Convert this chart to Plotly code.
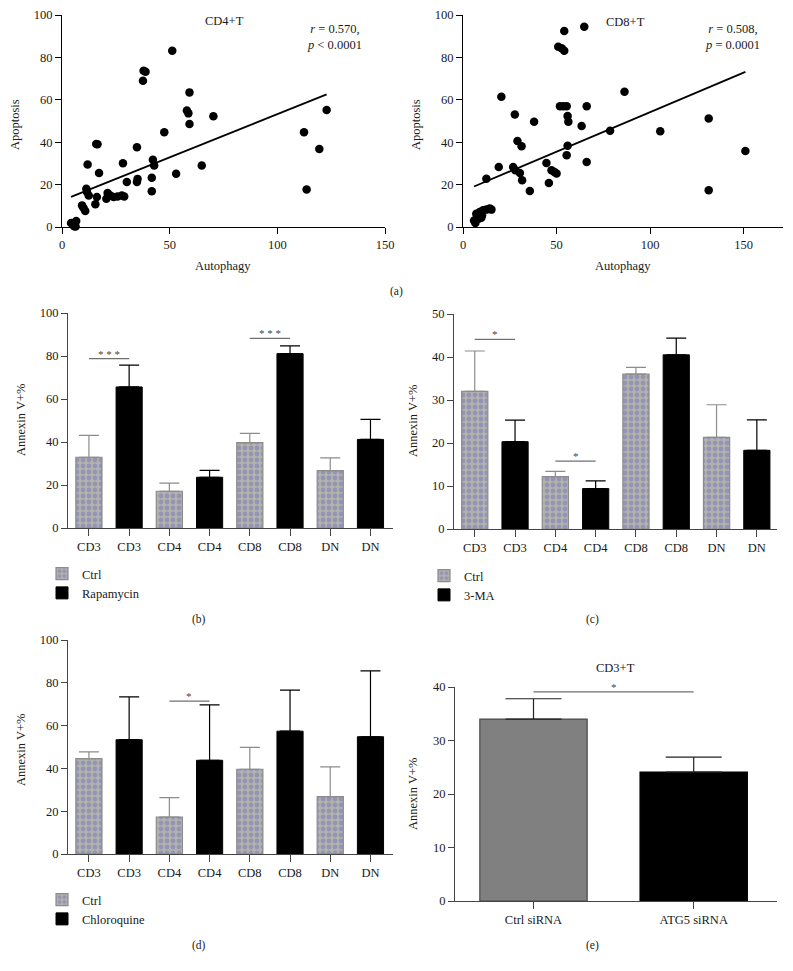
import plotly.graph_objects as go

# scatter data, panel (a)
cd4_autophagy = [4.2, 5.1, 6.6, 5.7, 6.3, 9.3, 10.0, 10.8, 11.9, 11.3, 11.6, 12.4, 15.9, 16.5, 17.2, 15.5, 16.2,
                 20.6, 21.2, 22.4, 24.0, 25.8, 27.8, 28.9, 28.3, 30.1, 34.8, 34.8, 35.1, 37.6, 37.9, 38.8, 41.7,
                 41.7, 42.2, 42.8, 47.5, 51.2, 53.0, 58.0, 58.7, 59.2, 59.2, 64.9, 70.3, 112.4, 113.6, 119.5, 122.9]
cd4_apoptosis = [1.9, 1.0, 2.8, 0.4, 0.2, 10.2, 9.0, 7.5, 29.5, 18.0, 16.5, 14.9, 39.2, 39.0, 25.5, 10.7, 14.1,
                 13.3, 16.0, 14.9, 14.1, 14.4, 14.9, 14.4, 30.1, 21.2, 37.6, 21.2, 22.7, 69.0, 73.7, 73.2, 16.9,
                 23.2, 31.7, 29.0, 44.7, 83.1, 25.1, 54.9, 53.6, 63.5, 48.6, 29.0, 52.2, 44.7, 17.7, 36.8, 55.2]
cd4_fit = (0.407, 12.5)   # slope, intercept
cd4_stats = "<i>r</i> = 0.570,<br><i>p</i> &lt; 0.0001"

cd8_autophagy = [5.9, 6.6, 7.7, 7.1, 8.9, 10.2, 10.7, 12.5, 14.3, 15.2, 8.4, 9.8, 12.5, 19.1, 20.5, 26.8, 27.7,
                 28.0, 29.1, 30.4, 31.3, 31.6, 35.7, 38.0, 44.6, 45.9, 47.3, 48.8, 50.0, 50.9, 52.7, 54.1, 54.1,
                 51.8, 53.6, 55.4, 55.9, 56.3, 55.9, 55.4, 63.4, 64.8, 66.1, 66.1, 78.6, 86.3, 105.4, 131.3,
                 131.3, 150.9]
cd8_apoptosis = [3.1, 1.9, 4.7, 6.3, 7.1, 5.5, 7.9, 8.2, 8.7, 8.2, 3.9, 4.4, 22.8, 28.3, 61.4, 28.3, 53.1,
                 26.8, 40.6, 25.5, 38.1, 22.0, 17.0, 49.6, 30.2, 20.8, 26.8, 26.0, 25.2, 85.0, 84.3, 83.1, 92.4,
                 57.0, 57.0, 57.0, 52.3, 49.6, 38.3, 33.9, 47.6, 94.5, 57.0, 30.7, 45.4, 63.8, 45.2, 51.2,
                 17.3, 35.9]
cd8_fit = (0.373, 16.9)
cd8_stats = "<i>r</i> = 0.508,<br><i>p</i> = 0.0001"

# bar data, panels (b)-(d)
tick_labels = ["CD3", "CD3", "CD4", "CD4", "CD8", "CD8", "DN", "DN"]
ctrl_pos = [0, 2, 4, 6]
drug_pos = [1, 3, 5, 7]

b_ctrl = [32.9, 17.1, 39.7, 26.7]
b_ctrl_sd = [10.2, 3.8, 4.3, 5.9]
b_drug = [65.6, 23.6, 81.1, 41.2]
b_drug_sd = [10.2, 3.2, 3.6, 9.3]
b_sig = [(0, 1, 78.8, "* * *"), (4, 5, 88.2, "* * *")]

c_ctrl = [32.0, 12.2, 36.0, 21.3]
c_ctrl_sd = [9.4, 1.2, 1.6, 7.6]
c_drug = [20.3, 9.4, 40.5, 18.3]
c_drug_sd = [5.0, 1.8, 3.9, 7.1]
c_sig = [(0, 1, 44.1, "*"), (2, 3, 15.8, "*")]

d_ctrl = [44.6, 17.3, 39.6, 26.8]
d_ctrl_sd = [3.1, 9.0, 10.2, 13.9]
d_drug = [53.4, 43.8, 57.4, 54.8]
d_drug_sd = [20.0, 25.9, 19.2, 30.8]
d_sig = [(2, 3, 71.4, "*")]

# panel (e)
e_labels = ["Ctrl siRNA", "ATG5 siRNA"]
e_mean = [34.0, 24.1]
e_sd = [3.8, 2.8]
e_sig = [(0, 1, 39.1, "*")]

# the page puts the plot 8px in from the top-left corner
OFF = 8
W, H = 793 - OFF, 971 - OFF
FONT = "Liberation Serif, Times New Roman, serif"
FS = 12.5


def px(x):
    return (x - OFF) / W


def py(y):
    return 1 - (y - OFF) / H


fig = go.Figure()

# ---- scatter panels
for data_x, data_y, fit, ax in [(cd4_autophagy, cd4_apoptosis, cd4_fit, ""),
                                (cd8_autophagy, cd8_apoptosis, cd8_fit, "2")]:
    fig.add_trace(go.Scatter(x=data_x, y=data_y, mode="markers", xaxis="x" + ax, yaxis="y" + ax,
                             marker=dict(color="black", size=8.5), cliponaxis=False, showlegend=False))
    lo, hi = min(data_x), max(data_x)
    fig.add_trace(go.Scatter(x=[lo, hi], y=[fit[0] * lo + fit[1], fit[0] * hi + fit[1]], mode="lines",
                             xaxis="x" + ax, yaxis="y" + ax, line=dict(color="black", width=1.8),
                             showlegend=False))

# ---- grouped bar panels
CTRL_FILL = "#b3b3ab"
CHECK = "#9494b6"


def add_bars(ctrl, ctrl_sd, drug, drug_sd, drug_name, ax, legend):
    fig.add_trace(go.Bar(x=ctrl_pos, y=ctrl, width=0.65, name="Ctrl", xaxis="x" + ax, yaxis="y" + ax,
                         legend=legend,
                         marker=dict(color=CTRL_FILL, line=dict(color="#8c8c8c", width=1.2),
                                     pattern=dict(shape=".", bgcolor=CTRL_FILL, fgcolor=CHECK,
                                                  size=6, solidity=0.5, fillmode="replace")),
                         error_y=dict(type="data", array=ctrl_sd, arrayminus=[0] * 4, symmetric=False,
                                      color="#8c8c8c", thickness=1.2, width=10)))
    fig.add_trace(go.Bar(x=drug_pos, y=drug, width=0.65, name=drug_name, xaxis="x" + ax, yaxis="y" + ax,
                         legend=legend,
                         marker=dict(color="black", line=dict(color="black", width=1)),
                         error_y=dict(type="data", array=drug_sd, arrayminus=[0] * 4, symmetric=False,
                                      color="black", thickness=1.2, width=10)))


add_bars(b_ctrl, b_ctrl_sd, b_drug, b_drug_sd, "Rapamycin", "3", "legend")
add_bars(c_ctrl, c_ctrl_sd, c_drug, c_drug_sd, "3-MA", "4", "legend2")
add_bars(d_ctrl, d_ctrl_sd, d_drug, d_drug_sd, "Chloroquine", "5", "legend3")

fig.add_trace(go.Bar(x=[0, 1], y=e_mean, width=0.67, xaxis="x6", yaxis="y6", showlegend=False,
                     marker=dict(color=["#808080", "black"], line=dict(color=["#4a4a4a", "black"], width=1.2)),
                     error_y=dict(type="data", array=e_sd, arrayminus=[0, 0], symmetric=False,
                                  color="#222222", thickness=1.2, width=28)))

# significance bars
annotations = []
shapes = []
for sig, ax in [(b_sig, "3"), (c_sig, "4"), (d_sig, "5"), (e_sig, "6")]:
    for i, j, yv, txt in sig:
        shapes.append(dict(type="line", xref="x" + ax, yref="y" + ax, x0=i, x1=j, y0=yv, y1=yv,
                           line=dict(color="#707070", width=1.2)))
        annotations.append(dict(x=(i + j) / 2, y=yv, xref="x" + ax, yref="y" + ax, text=txt,
                                showarrow=False, yanchor="bottom", yshift=-3,
                                font=dict(family=FONT, size=11, color="#444444")))


def ann(x, y, text, size=FS, angle=0, xanchor="center"):
    annotations.append(dict(x=px(x), y=py(y), xref="paper", yref="paper", text=text, showarrow=False,
                            textangle=angle, xanchor=xanchor, yanchor="middle",
                            font=dict(family=FONT, size=size, color="#1a1a1a")))


ann(15, 125, "Apoptosis", angle=-90)
ann(416, 125, "Apoptosis", angle=-90)
ann(223, 266, "Autophagy")
ann(623, 266, "Autophagy")
ann(224, 21, "CD4+T")
ann(625, 22, "CD8+T")
ann(334, 37, cd4_stats)
ann(732, 37, cd8_stats)
ann(21, 420, "Annexin V+%", angle=-90)
ann(413, 421, "Annexin V+%", angle=-90)
ann(21, 750, "Annexin V+%", angle=-90)
ann(413, 794, "Annexin V+%", angle=-90)
ann(615, 668, "CD3+T")
ann(396, 292, "(a)", size=11.5)
ann(199, 619, "(b)", size=11.5)
ann(592, 619, "(c)", size=11.5)
ann(199, 945, "(d)", size=11.5)
ann(592, 945, "(e)", size=11.5)


def axis_style(color):
    return dict(showline=True, linecolor=color, linewidth=1.1, ticks="outside", tickcolor=color,
                tickwidth=1.1, showgrid=False, zeroline=False, automargin=False, ticklabeloverflow="allow",
                tickfont=dict(family=FONT, size=FS, color="#1a1a1a"))


layout = dict(width=W, height=H, margin=dict(l=0, r=0, t=0, b=0), plot_bgcolor="white",
              paper_bgcolor="white", barmode="overlay", font=dict(family=FONT, size=FS),
              annotations=annotations, shapes=shapes)

# scatter axes
layout["xaxis"] = dict(axis_style("black"), domain=[px(62), px(385)], range=[0, 150], tickvals=[0, 50, 100, 150],
                       ticklen=6, anchor="y")
layout["yaxis"] = dict(axis_style("black"), domain=[py(227), py(15)], range=[0, 100],
                       tickvals=[0, 20, 40, 60, 80, 100], ticklen=6, anchor="x")
layout["xaxis2"] = dict(axis_style("black"), domain=[px(463), px(783)], range=[0, 171],
                        tickvals=[0, 50, 100, 150], ticklen=6, anchor="y2")
layout["yaxis2"] = dict(axis_style("black"), domain=[py(227), py(15)], range=[0, 100],
                        tickvals=[0, 20, 40, 60, 80, 100], ticklen=6, anchor="x2")

# bar axes
for ax, xd, yd, xr, yr, ytv in [
    ("3", (68, 393), (528, 313), (-0.52, 7.56), (0, 100), [0, 20, 40, 60, 80, 100]),
    ("4", (454, 777), (529, 314), (-0.515, 7.5), (0, 50), [0, 10, 20, 30, 40, 50]),
    ("5", (68, 393), (854, 640), (-0.52, 7.56), (0, 100), [0, 20, 40, 60, 80, 100]),
]:
    layout["xaxis" + ax] = dict(axis_style("#444444"), domain=[px(xd[0]), px(xd[1])], range=list(xr),
                                tickvals=list(range(8)), ticktext=tick_labels, ticklen=7, anchor="y" + ax)
    layout["yaxis" + ax] = dict(axis_style("#444444"), domain=[py(yd[0]), py(yd[1])], range=list(yr),
                                tickvals=ytv, ticklen=6, anchor="x" + ax)

layout["xaxis6"] = dict(axis_style("#444444"), domain=[px(455), px(777)], range=[-0.49, 1.52],
                        tickvals=[0, 1], ticktext=e_labels, ticklen=7, anchor="y6")
layout["yaxis6"] = dict(axis_style("#444444"), domain=[py(901), py(687)], range=[0, 40],
                        tickvals=[0, 10, 20, 30, 40], ticklen=6, anchor="x6")

leg = dict(xanchor="left", yanchor="top", bgcolor="rgba(0,0,0,0)", borderwidth=0,
           font=dict(family=FONT, size=FS, color="#1a1a1a"), tracegroupgap=0)
layout["legend"] = dict(leg, x=px(42), y=py(559))
layout["legend2"] = dict(leg, x=px(424), y=py(561))
layout["legend3"] = dict(leg, x=px(42), y=py(885))

fig.update_layout(**layout)
fig.write_html("out.html")
